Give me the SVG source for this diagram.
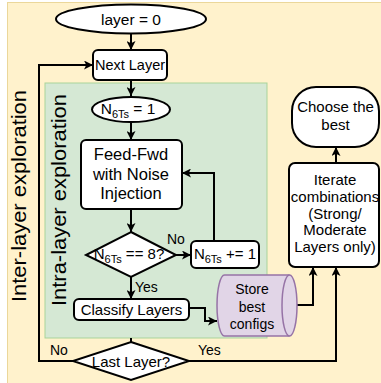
<svg xmlns="http://www.w3.org/2000/svg" width="381" height="383" viewBox="0 0 381 383">
<defs>
<marker id="arr" viewBox="0 0 10 10" refX="10" refY="5" markerWidth="9" markerHeight="9" markerUnits="userSpaceOnUse" orient="auto">
<path d="M0,0 L10,5 L0,10 L2.5,5 Z" fill="#000"/>
</marker>
<style>
.n{fill:#fff;stroke:#000;stroke-width:2}
.t{font-family:"Liberation Sans",Arial,sans-serif;fill:#000;text-anchor:middle}
.c{fill:none;stroke:#000;stroke-width:2}
.lbl{font-family:"Liberation Sans",Arial,sans-serif;font-size:14px;fill:#000}
</style>
</defs>
<rect x="0" y="0" width="381" height="383" fill="#fff"/>
<rect id="inter-region" x="7.5" y="2.5" width="376" height="383" fill="#FFF2CC" stroke="#EBD79A" stroke-width="1"/>
<rect id="intra-region" x="45" y="83" width="222" height="255" fill="#D5E8D4" stroke="#A9D39A" stroke-width="1"/>
<text class="t" font-size="20.5" transform="translate(26,196) rotate(-90)" textLength="212" lengthAdjust="spacingAndGlyphs">Inter-layer exploration</text>
<text class="t" font-size="20.5" transform="translate(66,200) rotate(-90)" textLength="212" lengthAdjust="spacingAndGlyphs">Intra-layer exploration</text>

<g id="connectors">
<path class="c" d="M131,34 V50" marker-end="url(#arr)"/>
<path class="c" d="M131,80 V96" marker-end="url(#arr)"/>
<path class="c" d="M131,122 V140" marker-end="url(#arr)"/>
<path class="c" d="M131,209 V232" marker-end="url(#arr)"/>
<path class="c" d="M176,255 H191" marker-end="url(#arr)"/>
<path class="c" d="M214,241 V173 H182" marker-end="url(#arr)"/>
<path class="c" d="M131,277 V299" marker-end="url(#arr)"/>
<path class="c" d="M189,308 H205 V321 H217" marker-end="url(#arr)"/>
<path class="c" d="M297,305 H313 V267" marker-end="url(#arr)"/>
<path class="c" d="M189,361 H336 V267" marker-end="url(#arr)"/>
<path class="c" d="M336,163 V147" marker-end="url(#arr)"/>
<path class="c" d="M73,361 H39 V65 H93" marker-end="url(#arr)"/>
<path class="c" d="M131,338 V342"/>
<text class="lbl" x="167" y="244">No</text>
<text class="lbl" x="135" y="292">Yes</text>
<text class="lbl" x="50" y="355">No</text>
<text class="lbl" x="198" y="355">Yes</text>
</g>

<g id="start">
<ellipse class="n" cx="131" cy="19" rx="75" ry="14.5"/>
<text class="t" font-size="15.5" x="131" y="24.5">layer = 0</text>
</g>
<g id="next-layer">
<rect class="n" x="93" y="50" width="74" height="30" rx="5"/>
<text class="t" font-size="14.5" x="130" y="70">Next Layer</text>
</g>
<g id="n6ts-init">
<ellipse class="n" cx="131" cy="109.5" rx="39" ry="12.5"/>
<text class="t" font-size="15.5" x="128" y="114">N<tspan font-size="11" dy="4">6Ts</tspan><tspan dy="-4"> = 1</tspan></text>
</g>
<g id="feed-fwd">
<rect class="n" x="81" y="140" width="101" height="69" rx="5"/>
<text class="t" font-size="16.5" x="131" y="160">Feed-Fwd</text>
<text class="t" font-size="16.5" x="131" y="179.5">with Noise</text>
<text class="t" font-size="16.5" x="131" y="199">Injection</text>
</g>
<g id="check">
<polygon class="n" points="131,232 176,255 131,277 86,255"/>
<text class="t" font-size="15" x="129" y="259">N<tspan font-size="11" dy="4">6Ts</tspan><tspan dy="-4"> == 8?</tspan></text>
</g>
<g id="increment">
<rect class="n" x="191" y="241" width="68" height="27" rx="5"/>
<text class="t" font-size="15" x="225" y="259">N<tspan font-size="11" dy="4">6Ts</tspan><tspan dy="-4"> += 1</tspan></text>
</g>
<g id="classify">
<rect class="n" x="74" y="299" width="115" height="21" rx="5"/>
<text class="t" font-size="15" x="131.5" y="315">Classify Layers</text>
</g>
<g id="store">
<path d="M224.5,275 H289.5 A7.5,30.5 0 0 1 289.5,336 H224.5 A7.5,30.5 0 0 1 224.5,275 Z" fill="#E1D5E7" stroke="#9673A6" stroke-width="1.5"/>
<path d="M289.5,275 A7.5,30.5 0 0 0 289.5,336" fill="none" stroke="#9673A6" stroke-width="1.5"/>
<text class="t" font-size="14" x="252" y="294">Store</text>
<text class="t" font-size="14" x="252" y="312">best</text>
<text class="t" font-size="14" x="252" y="329">configs</text>
</g>
<g id="last-layer">
<polygon class="n" points="131,342 189,361 131,380 73,361"/>
<text class="t" font-size="15" x="131" y="367">Last Layer?</text>
</g>
<g id="iterate">
<rect class="n" x="289" y="163" width="90" height="104" rx="6"/>
<text class="t" font-size="15" x="335" y="185">Iterate</text>
<text class="t" font-size="15" x="335" y="202">combinations</text>
<text class="t" font-size="15" x="335" y="219">(Strong/</text>
<text class="t" font-size="15" x="335" y="235">Moderate</text>
<text class="t" font-size="15" x="335" y="252">Layers only)</text>
</g>
<g id="choose">
<rect class="n" x="292" y="87" width="87" height="60" rx="24" ry="24"/>
<text class="t" font-size="15" x="335.5" y="112">Choose the</text>
<text class="t" font-size="15" x="335.5" y="130">best</text>
</g>
</svg>
